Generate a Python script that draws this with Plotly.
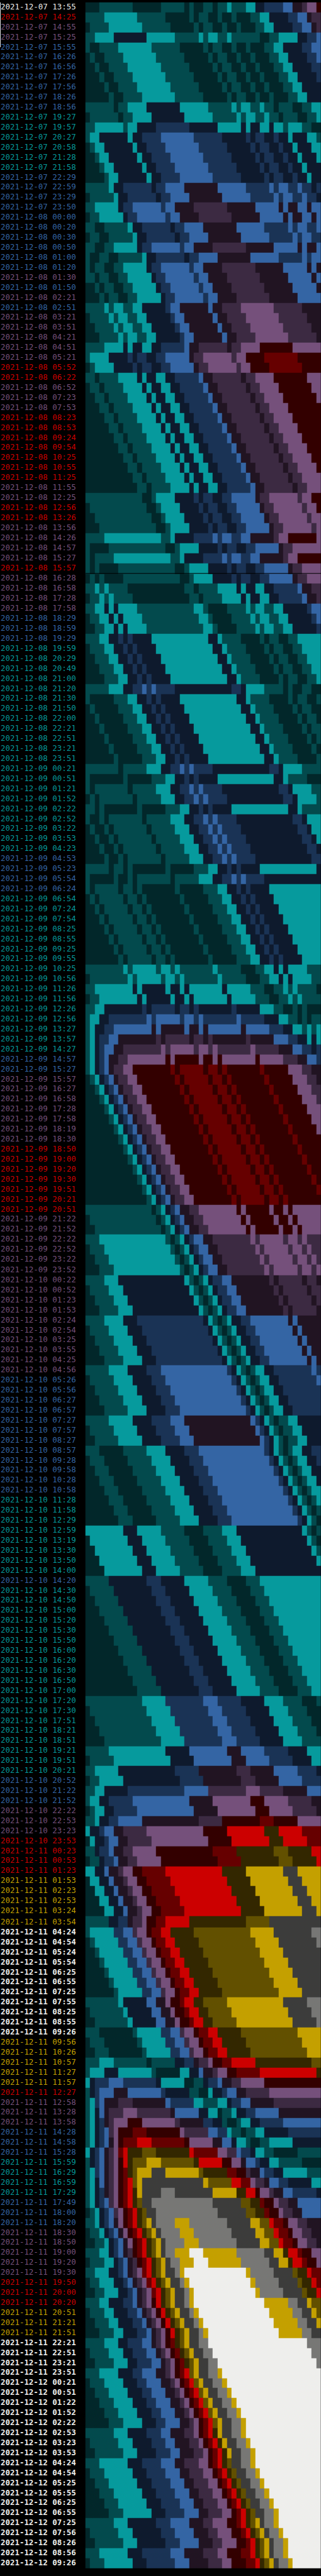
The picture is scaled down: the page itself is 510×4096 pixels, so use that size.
import re
import plotly.graph_objects as go

# Level palette, lowest to highest (letters a..r used in ROWS)
LEVELS = "abcdefghijklmnopqr"
PALETTE = ["#02272a", "#034a4d", "#069a9d", "#0e1a2d", "#1a3355", "#3465a4",
           "#211422", "#3c2a42", "#75507b", "#330000", "#660000", "#cc0000",
           "#332700", "#625000", "#c4a000", "#3c3c3b", "#777775", "#eeeeec"]
LABEL_COLORS = {"w": "#eeeeec", "W": "#eeeeec", "r": "#cc0000", "p": "#75507b",
                "b": "#3465a4", "t": "#06989a", "y": "#c4a000"}

D07 = "13:55 14:25 14:55 15:25 15:55 16:26 16:56 17:26 17:56 18:26 18:56 19:27 19:57 20:27 20:58 21:28 21:58 22:29 22:59 23:29 23:50".split()
D08 = "00:00 00:20 00:30 00:50 01:00 01:20 01:30 01:50 02:21 02:51 03:21 03:51 04:21 04:51 05:21 05:52 06:22 06:52 07:23 07:53 08:23 08:53 09:24 09:54 10:25 10:55 11:25 11:55 12:25 12:56 13:26 13:56 14:26 14:57 15:27 15:57 16:28 16:58 17:28 17:58 18:29 18:59 19:29 19:59 20:29 20:49 21:00 21:20 21:30 21:50 22:00 22:21 22:51 23:21 23:51".split()
D09 = "00:21 00:51 01:21 01:52 02:22 02:52 03:22 03:53 04:23 04:53 05:23 05:54 06:24 06:54 07:24 07:54 08:25 08:55 09:25 09:55 10:25 10:56 11:26 11:56 12:26 12:56 13:27 13:57 14:27 14:57 15:27 15:57 16:27 16:58 17:28 17:58 18:19 18:30 18:50 19:00 19:20 19:30 19:51 20:21 20:51 21:22 21:52 22:22 22:52 23:22 23:52".split()
D10 = "00:22 00:52 01:23 01:53 02:24 02:54 03:25 03:55 04:25 04:56 05:26 05:56 06:27 06:57 07:27 07:57 08:27 08:57 09:28 09:58 10:28 10:58 11:28 11:58 12:29 12:59 13:19 13:30 13:50 14:00 14:20 14:30 14:50 15:00 15:20 15:30 15:50 16:00 16:20 16:30 16:50 17:00 17:20 17:30 17:51 18:21 18:51 19:21 19:51 20:21 20:52 21:22 21:52 22:22 22:53 23:23 23:53".split()
D11 = "00:23 00:53 01:23 01:53 02:23 02:53 03:24 03:54 04:24 04:54 05:24 05:54 06:25 06:55 07:25 07:55 08:25 08:55 09:26 09:56 10:26 10:57 11:27 11:57 12:27 12:58 13:28 13:58 14:28 14:58 15:28 15:59 16:29 16:59 17:29 17:49 18:00 18:20 18:30 18:50 19:00 19:20 19:30 19:50 20:00 20:20 20:51 21:21 21:51 22:21 22:51 23:21 23:51".split()
D12 = "00:21 00:51 01:22 01:52 02:22 02:53 03:23 03:53 04:24 04:54 05:25 05:55 06:25 06:55 07:25 07:56 08:26 08:56 09:26".split()

# Label colour class of each row, run-length coded
LABEL_CLASS = ("w1r1p2b7t6b10p1b1p1b1p5r2p3r7p2r2p4r1p4b3t21b4t16b2p7r7p16b12t8b1t19b3p3r4"
               "y5W11y5r1p3b3t4b3p5r3y3W23")

# Heat levels of each row, run-length coded, left to right
ROWS = """
a3b7a6b5a1b1a2b2a1b2c1b3c2d2e4f2g2h1i2j1
b4c7b6a5b1a1b2a2b1a2b1a3b2c2d4e2f2g1h2
a1b4c7b6a5b1a1b2a2b1a2b1a3b2c2d4e2f2g1h1
b2c4d7c6b5c1b1c2b2c1b6a2b2c4d2e2f1
b1a2b4c7b6a5b1a1b2a2b1a2b1a3b2c2d4e2f2
a1b1a2b4c7b6a5b1a1b2a2b1a2b1a3b2c2d4e2f1
a2b1a2b4c7b6a5b1a1b2a2b1a2b1a3b2c2d4e2
a3b1a2b4c7b6a5b1a1b2a2b1a2b1a3b2c2d4e1
a4b1a2b4c7b6a5b1a1b2a2b1a2b1a3b2c2d4
a5b1a2b4c7b6a5b1a1b2a2b1a2b1a3b2c2d3
b6a1b2c4d7c6b5c1b1c2b2c1b2a1b3a2b2c2
a1b6a1b2c4d7c6b5c1b1c2b2c1b2a1b3a2b2c1
b2c6b1c2d4e7d6c5d1c1d2c2d1c2b1c3b2a2
b1c2d6c1d2e4f7e6d5e1d1e2d2e1d2c1d3c2b1
a1b1c2d6c1d2e4f7e6d5e1d1e2d2e1d2c1d3c2
a2b1c2d6c1d2e4f7e6d5e1d1e2d2e1d2c1d3c1
a3b1c2d6c1d2e4f7e6d5e1d1e2d2e1d2c1d3
a4b1c2d6c1d2e4f7e6d5e1d1e2d2e1d2c1d2
b5c1d2e6d1e2f4g7f6e5f1e1f2e2f1e2d1e1
a1b5c1d2e6d1e2f4g7f6e5f1e1f2e2f1e2d1
b2c5d1e2f6e1f2g4h7g6f5g1f1g2f2g1f2
a1b2c5d1e2f6e1f2g4h7g6f5g1f1g2f2g1f1
b2a2b5c1d2e6d1e2f4g7f6e5f1e1f2e2f1
a1b2a2b5c1d2e6d1e2f4g7f6e5f1e1f2e2
b2a2b2c5d1e2f6e1f2g4h7g6f5g1f1g2f1
b1a2b2a2b5c1d2e6d1e2f4g7f6e5f1e1f2
b1a1b2a2b2c5d1e2f6e1f2g4h7g6f5g1f1g1
b2a1b2a2b2c5d1e2f6e1f2g4h7g6f5g1f1
a2b1a1b2a2b2c5d1e2f6e1f2g4h7g6f5g1
a3b1a1b2a2b2c5d1e2f6e1f2g4h7g6f5
b4c1b1c2b2c2d5e1f2g6f1g2h4i7h6g4
a1b4c1b1c2b2c2d5e1f2g6f1g2h4i7h6g3
a2b4c1b1c2b2c2d5e1f2g6f1g2h4i7h6g2
a3b4c1b1c2b2c2d5e1f2g6f1g2h4i7h6g1
b4c4d1c1d2c2d2e5f1g2h6g1h2i4j7i6
b1c4d4e1d1e2d2e2f5g1h2i6h1i2j4k7j5
a1b1c4d4e1d1e2d2e2f5g1h2i6h1i2j4k7j4
b2a1b4c4d1c1d2c2d2e5f1g2h6g1h2i4j7i3
a1b2a1b4c4d1c1d2c2d2e5f1g2h6g1h2i4j7i2
a2b2a1b4c4d1c1d2c2d2e5f1g2h6g1h2i4j7i1
a3b2a1b4c4d1c1d2c2d2e5f1g2h6g1h2i4j7
a4b2a1b4c4d1c1d2c2d2e5f1g2h6g1h2i4j6
a5b2a1b4c4d1c1d2c2d2e5f1g2h6g1h2i4j5
a6b2a1b4c4d1c1d2c2d2e5f1g2h6g1h2i4j4
a7b2a1b4c4d1c1d2c2d2e5f1g2h6g1h2i4j3
a8b2a1b4c4d1c1d2c2d2e5f1g2h6g1h2i4j2
a9b2a1b4c4d1c1d2c2d2e5f1g2h6g1h2i4j1
a10b2a1b4c4d1c1d2c2d2e5f1g2h6g1h2i4
a11b2a1b4c4d1c1d2c2d2e5f1g2h6g1h2i3
b12a2b1c4d4e1d1e2d2e2f5g1h2i6h1i2j2
a1b12a2b1c4d4e1d1e2d2e2f5g1h2i6h1i2j1
a2b12a2b1c4d4e1d1e2d2e2f5g1h2i6h1i2
a3b12a2b1c4d4e1d1e2d2e2f5g1h2i6h1i1
b4c12b2c1d4e4f1e1f2e2f2g5h1i2j6i1
b1a4b12a2b1c4d4e1d1e2d2e2f5g1h2i6
b1a1b4c12b2c1d4e4f1e1f2e2f2g5h1i2j5
b1a1b1a4b12a2b1c4d4e1d1e2d2e2f5g1h2i4
a1b1a1b1a4b12a2b1c4d4e1d1e2d2e2f5g1h2i3
b2c1b1c1b4a12b2a1b4c4d1c1d2c2d2e5f1g2h2
a1b2c1b1c1b4a12b2a1b4c4d1c1d2c2d2e5f1g2h1
b2c2d1c1d1c4b12c2b1a4b4c1b1c2b2c2d5e1f2
a1b2c2d1c1d1c4b12c2b1a4b4c1b1c2b2c2d5e1f1
a2b2c2d1c1d1c4b12c2b1a4b4c1b1c2b2c2d5e1
b3c2d2e1d1e1d4c12d2c1b4a4b1a1b2a2b2c5
a1b3c2d2e1d1e1d4c12d2c1b4a4b1a1b2a2b2c4
a2b3c2d2e1d1e1d4c12d2c1b4a4b1a1b2a2b2c3
a3b3c2d2e1d1e1d4c12d2c1b4a4b1a1b2a2b2c2
a4b3c2d2e1d1e1d4c12d2c1b4a4b1a1b2a2b2c1
b5c3d2e2f1e1f1e4d12e2d1c4b4a1b1a2b2a2
b1a5b3c2d2e1d1e1d4c12d2c1b4a4b1a1b2a2b1
a1b1a5b3c2d2e1d1e1d4c12d2c1b4a4b1a1b2a2
a2b1a5b3c2d2e1d1e1d4c12d2c1b4a4b1a1b2a1
a3b1a5b3c2d2e1d1e1d4c12d2c1b4a4b1a1b2
a4b1a5b3c2d2e1d1e1d4c12d2c1b4a4b1a1b1
a5b1a5b3c2d2e1d1e1d4c12d2c1b4a4b1a1
a6b1a5b3c2d2e1d1e1d4c12d2c1b4a4b1
b7a1b5c3d2e2f1e1f1e4d12e2d1c4b4
b1a7b1a5b3c2d2e1d1e1d4c12d2c1b4a3
b1a1b7a1b5c3d2e2f1e1f1e4d12e2d1c4b2
a1b1a1b7a1b5c3d2e2f1e1f1e4d12e2d1c4b1
b2a1b1a7b1a5b3c2d2e1d1e1d4c12d2c1b4
b1a2b1a1b7a1b5c3d2e2f1e1f1e4d12e2d1c3
a1b1a2b1a1b7a1b5c3d2e2f1e1f1e4d12e2d1c2
a2b1a2b1a1b7a1b5c3d2e2f1e1f1e4d12e2d1c1
a3b1a2b1a1b7a1b5c3d2e2f1e1f1e4d12e2d1
a4b1a2b1a1b7a1b5c3d2e2f1e1f1e4d12e2
b5a1b2a1b1a7b1a5b3c2d2e1d1e1d4c12d1
b1a5b1a2b1a1b7a1b5c3d2e2f1e1f1e4d12
b1a1b5a1b2a1b1a7b1a5b3c2d2e1d1e1d4c11
a1b1a1b5a1b2a1b1a7b1a5b3c2d2e1d1e1d4c10
a2b1a1b5a1b2a1b1a7b1a5b3c2d2e1d1e1d4c9
a3b1a1b5a1b2a1b1a7b1a5b3c2d2e1d1e1d4c8
a4b1a1b5a1b2a1b1a7b1a5b3c2d2e1d1e1d4c7
a5b1a1b5a1b2a1b1a7b1a5b3c2d2e1d1e1d4c6
a6b1a1b5a1b2a1b1a7b1a5b3c2d2e1d1e1d4c5
a7b1a1b5a1b2a1b1a7b1a5b3c2d2e1d1e1d4c4
b8c1b1c5b1c2b1c1b7c1b5a3b2c2d1c1d1c4b3
a1b8c1b1c5b1c2b1c1b7c1b5a3b2c2d1c1d1c4b2
b2c8d1c1d5c1d2c1d1c7d1c5b3a2b2c1b1c1b4a1
a1b2c8d1c1d5c1d2c1d1c7d1c5b3a2b2c1b1c1b4
b2c2d8e1d1e5d1e2d1e1d7e1d5c3b2a2b1a1b1a3
b1c2d2e8f1e1f5e1f2e1f1e7f1e5d3c2b2a1b1a1b2
b1c1d2e2f8g1f1g5f1g2f1g1f7g1f5e3d2c2b1c1b1c1
b1c1d1e2f2g8h1g1h5g1h2g1h1g7h1g5f3e2d2c1d1c1
b1c1d1e1f2g2h8i1h1i5h1i2h1i1h7i1h5g3f2e2d1e1
b1c1d1e1f1g2h2i8j1i1j5i1j2i1j1i7j1i5h3g2f2e1
b1c1d1e1f1g1h2i2j8k1j1k5j1k2j1k1j7k1j5i3h2g2
a1b1c1d1e1f1g1h2i2j8k1j1k5j1k2j1k1j7k1j5i3h2g1
a2b1c1d1e1f1g1h2i2j8k1j1k5j1k2j1k1j7k1j5i3h2
a3b1c1d1e1f1g1h2i2j8k1j1k5j1k2j1k1j7k1j5i3h1
a4b1c1d1e1f1g1h2i2j8k1j1k5j1k2j1k1j7k1j5i3
a5b1c1d1e1f1g1h2i2j8k1j1k5j1k2j1k1j7k1j5i2
a6b1c1d1e1f1g1h2i2j8k1j1k5j1k2j1k1j7k1j5i1
a7b1c1d1e1f1g1h2i2j8k1j1k5j1k2j1k1j7k1j5
a8b1c1d1e1f1g1h2i2j8k1j1k5j1k2j1k1j7k1j4
a9b1c1d1e1f1g1h2i2j8k1j1k5j1k2j1k1j7k1j3
a10b1c1d1e1f1g1h2i2j8k1j1k5j1k2j1k1j7k1j2
a11b1c1d1e1f1g1h2i2j8k1j1k5j1k2j1k1j7k1j1
a12b1c1d1e1f1g1h2i2j8k1j1k5j1k2j1k1j7k1
a13b1c1d1e1f1g1h2i2j8k1j1k5j1k2j1k1j7
b14a1b1c1d1e1f1g2h2i8j1i1j5i1j2i1j1i6
a1b14a1b1c1d1e1f1g2h2i8j1i1j5i1j2i1j1i5
a2b14a1b1c1d1e1f1g2h2i8j1i1j5i1j2i1j1i4
b3c14b1a1b1c1d1e1f2g2h8i1h1i5h1i2h1i1h3
a1b3c14b1a1b1c1d1e1f2g2h8i1h1i5h1i2h1i1h2
a2b3c14b1a1b1c1d1e1f2g2h8i1h1i5h1i2h1i1h1
a3b3c14b1a1b1c1d1e1f2g2h8i1h1i5h1i2h1i1
b4c3d14c1b1a1b1c1d1e2f2g8h1g1h5g1h2g1
a1b4c3d14c1b1a1b1c1d1e2f2g8h1g1h5g1h2
a2b4c3d14c1b1a1b1c1d1e2f2g8h1g1h5g1h1
a3b4c3d14c1b1a1b1c1d1e2f2g8h1g1h5g1
b4c4d3e14d1c1b1a1b1c1d2e2f8g1f1g5
a1b4c4d3e14d1c1b1a1b1c1d2e2f8g1f1g4
a2b4c4d3e14d1c1b1a1b1c1d2e2f8g1f1g3
a3b4c4d3e14d1c1b1a1b1c1d2e2f8g1f1g2
a4b4c4d3e14d1c1b1a1b1c1d2e2f8g1f1g1
b5c4d4e3f14e1d1c1b1a1b1c2d2e8f1e1
a1b5c4d4e3f14e1d1c1b1a1b1c2d2e8f1
a2b5c4d4e3f14e1d1c1b1a1b1c2d2e8
a3b5c4d4e3f14e1d1c1b1a1b1c2d2e7
a4b5c4d4e3f14e1d1c1b1a1b1c2d2e6
b5c5d4e4f3g14f1e1d1c1b1a1b2c2d5
a1b5c5d4e4f3g14f1e1d1c1b1a1b2c2d4
a2b5c5d4e4f3g14f1e1d1c1b1a1b2c2d3
b3a5b5c4d4e3f14e1d1c1b1a1b1c2d2e2
a1b3a5b5c4d4e3f14e1d1c1b1a1b1c2d2e1
a2b3a5b5c4d4e3f14e1d1c1b1a1b1c2d2
a3b3a5b5c4d4e3f14e1d1c1b1a1b1c2d1
a4b3a5b5c4d4e3f14e1d1c1b1a1b1c2
a5b3a5b5c4d4e3f14e1d1c1b1a1b1c1
a6b3a5b5c4d4e3f14e1d1c1b1a1b1
a7b3a5b5c4d4e3f14e1d1c1b1a1
c8d3c5b5a4b4c3d14c1b1a1b1
a1c8d3c5b5a4b4c3d14c1b1a1
a2c8d3c5b5a4b4c3d14c1b1
a3c8d3c5b5a4b4c3d14c1
a4c8d3c5b5a4b4c3d14
b5d8e3d5c5b4a4b3c13
a1b5d8e3d5c5b4a4b3c12
a2b5d8e3d5c5b4a4b3c11
a3b5d8e3d5c5b4a4b3c10
a4b5d8e3d5c5b4a4b3c9
a5b5d8e3d5c5b4a4b3c8
a6b5d8e3d5c5b4a4b3c7
a7b5d8e3d5c5b4a4b3c6
a8b5d8e3d5c5b4a4b3c5
a9b5d8e3d5c5b4a4b3c4
a10b5d8e3d5c5b4a4b3c3
a11b5d8e3d5c5b4a4b3c2
b12c5e8f3e5d5c4b4a3b1
a1b12c5e8f3e5d5c4b4a3
a2b12c5e8f3e5d5c4b4a2
a3b12c5e8f3e5d5c4b4a1
a4b12c5e8f3e5d5c4b4
b5c12d5f8g3f5e5d4c3
a1b5c12d5f8g3f5e5d4c2
b2c5d12e5g8h3g5f5e4d1
a1b2c5d12e5g8h3g5f5e4
b2c2d5e12f5h8i3h5g5f3
b1c2d2e5f12g5i8j3i5h5g2
a1b1c2d2e5f12g5i8j3i5h5g1
b2c1d2e2f5g12h5j8k3j5i5
c1d2e1f2g2h5i12j5l8m3l5k4
a1c1d2e1f2g2h5i12j5l8m3l5k3
b2d1e2f1g2h2i5j12k5m8n3m5l2
a1b2d1e2f1g2h2i5j12k5m8n3m5l1
c2d2f1g2h1i2j2k5l12m5o8p3o5
a1c2d2f1g2h1i2j2k5l12m5o8p3o4
a2c2d2f1g2h1i2j2k5l12m5o8p3o3
a3c2d2f1g2h1i2j2k5l12m5o8p3o2
a4c2d2f1g2h1i2j2k5l12m5o8p3o1
b5d2e2g1h2i1j2k2l5m12n5p11
b1c5e2f2h1i2j1k2l2m5n12o5p8q2
a1b1c5e2f2h1i2j1k2l2m5n12o5p8q1
a2b1c5e2f2h1i2j1k2l2m5n12o5p8
a3b1c5e2f2h1i2j1k2l2m5n12o5p7
a4b1c5e2f2h1i2j1k2l2m5n12o5p6
a5b1c5e2f2h1i2j1k2l2m5n12o5p5
a6b1c5e2f2h1i2j1k2l2m5n12o5p4
b7c1d5f2g2i1j2k1l2m2n5o12p5q3
a1b7c1d5f2g2i1j2k1l2m2n5o12p5q2
a2b7c1d5f2g2i1j2k1l2m2n5o12p5q1
b3a7b1c5e2f2h1i2j1k2l2m5n12o5
a1b3a7b1c5e2f2h1i2j1k2l2m5n12o4
a2b3a7b1c5e2f2h1i2j1k2l2m5n12o3
b3c3b7a1b5d2e2g1h2i1j2k2l5m12n2
b1c3d3c7b1a5c2d2f1g2h1i2j2k5l12m1
c1d1e3f3e7d1c5a2b2d1e2f1g2h2i5j12
b1d1e1f3g3f7e1d5b2a2c1d2e1f2g2h5i11
b1c1e1f1g3h3g7f1e5c2b3c2d1e2f2g5h10
b1c1d1f1g1h3i3h7g1f5d2c2a1b2c1d2e2f5g9
b1c1d1e1g1h1i3j3i7h1g5e2d2b1a2b1c2d2e5f8
b1c1d1e1f1h1i1j3k3j7i1h5f2e2c1b2a1b2c2d5e7
b1c1d1e1f1g1i1j1k3l3k7j1i5g2f2d1c2b1a2b2c5d6
c1d1e1f1g1h1i1k1l1m3n3m7l1k5i2h2f1e2d1c2b2a5b5
b1d1e1f1g1h1i1j1l1m1n3o3n7m1l5j2i2g1f2e1d2c2b5a4
b1c1e1f1g1h1i1j1k1m1n1o3p3o7n1m5k2j2h1g2f1e2d2c5b3
b1c1d1f1g1h1i1j1k1l1n1o1p13o1n5l2k2i1h2g1f2e2d5c2
b1c1d1e1g1h1i1j1k1l1m1o1p4q3p8o5m2l2j1i2h1g2f2e5d1
b1c1d1e1f1h1i1j1k1l1m1n1p2q13p6n2m2k1j2i1h2g2f5
a1b1c1d1e1f1h1i1j1k1l1m1n1p2q13p6n2m2k1j2i1h2g2f4
b2c1d1e1f1g1i1j1k1l1m1n1o1p1q4o3q8p5o2n2l1k2j1i2h2g3
a1b2c1d1e1f1g1i1j1k1l1m1n1o1p1q4o3q8p5o2n2l1k2j1i2h2g2
a2b2c1d1e1f1g1i1j1k1l1m1n1o1p1q4o3q8p5o2n2l1k2j1i2h2g1
b3c2d1e1f1g1h1j1k1l1m1n1o1p1q2o3r3o7q6p2o2m1l2k1j2i2
a1b3c2d1e1f1g1h1j1k1l1m1n1o1p1q2o3r3o7q6p2o2m1l2k1j2i1
b2c3d2e1f1g1h1i1k1l1m1n1o1p2q1o1r13o1q5p4n1m2l1k2
a1b2c3d2e1f1g1h1i1k1l1m1n1o1p2q1o1r13o1q5p4n1m2l1k1
a2b2c3d2e1f1g1h1i1k1l1m1n1o1p2q1o1r13o1q5p4n1m2l1
b3c2d3e2f1g1h1i1j1l1m1n1o1p2q1o1r15o5q2p2o1n2
a1b3c2d3e2f1g1h1i1j1l1m1n1o1p2q1o1r15o5q2p2o1n1
a2b3c2d3e2f1g1h1i1j1l1m1n1o1p2q1o1r15o5q2p2o1
a3b3c2d3e2f1g1h1i1j1l1m1n1o1p2q1o1r15o5q2p2
b4c3d2e3f2g1h1i1j1k1m1n1o1p2q2r21q3
a1b4c3d2e3f2g1h1i1j1k1m1n1o1p2q2r21q2
a2b4c3d2e3f2g1h1i1j1k1m1n1o1p2q2r21q1
b3c4d3e2f3g2h1i1j1k1l1n1o1p2q2o1r21
a1b3c4d3e2f3g2h1i1j1k1l1n1o1p2q2o1r20
a2b3c4d3e2f3g2h1i1j1k1l1n1o1p2q2o1r19
a3b3c4d3e2f3g2h1i1j1k1l1n1o1p2q2o1r18
a4b3c4d3e2f3g2h1i1j1k1l1n1o1p2q2o1r17
a5b3c4d3e2f3g2h1i1j1k1l1n1o1p2q2o1r16
b6c3d4e3f2g3h2i1j1k1l1m1o1p2q2o1r16
a1b6c3d4e3f2g3h2i1j1k1l1m1o1p2q2o1r15
a2b6c3d4e3f2g3h2i1j1k1l1m1o1p2q2o1r14
b3c6d3e4f3g2h3i2j1k1l1m1n1p2q2o1r14
a1b3c6d3e4f3g2h3i2j1k1l1m1n1p2q2o1r13
a2b3c6d3e4f3g2h3i2j1k1l1m1n1p2q2o1r12
a3b3c6d3e4f3g2h3i2j1k1l1m1n1p2q2o1r11
a4b3c6d3e4f3g2h3i2j1k1l1m1n1p2q2o1r10
a5b3c6d3e4f3g2h3i2j1k1l1m1n1p2q2o1r9
b6c3d6e3f4g3h2i3j2k1l1m1n1o1p1q2o1r9
a1b6c3d6e3f4g3h2i3j2k1l1m1n1o1p1q2o1r8
a2b6c3d6e3f4g3h2i3j2k1l1m1n1o1p1q2o1r7
b3c6d3e6f3g4h3i2j3k2l1m1n1o1p1q2o1r7
a1b3c6d3e6f3g4h3i2j3k2l1m1n1o1p1q2o1r6
""".split()

N_COLS = 50


def unrle(code):
    return [ch for ch, n in re.findall(r"([A-Za-z])(\d+)", code) for _ in range(int(n))]


def row_levels(code):
    cells = [LEVELS.index(c) for c in unrle(code)]
    cells += [cells[-1]] * (N_COLS - len(cells))
    return cells[:N_COLS]


z = [row_levels(r) for r in ROWS]

labels = ([f"2021-12-07 {t}" for t in D07] + [f"2021-12-08 {t}" for t in D08]
          + [f"2021-12-09 {t}" for t in D09] + [f"2021-12-10 {t}" for t in D10]
          + [f"2021-12-11 {t}" for t in D11] + [f"2021-12-12 {t}" for t in D12])
classes = unrle(LABEL_CLASS)
text = [f"<b>{l}</b>" if c == "W" else l for l, c in zip(labels, classes)]
text_colors = [LABEL_COLORS[c] for c in classes]

# Layout is expressed in the reference's pixels: 8 x 17 character cells, 4 px top
# offset, three places where the screenshot has a little extra height.
CELL_W, CELL_H, TOP, REF_W, REF_H = 8, 17, 4, 545, 4373
LEFT = 145
EXTRA = {57: 1, 127: 1, 192: 2}
edges = [TOP]
for i in range(1, len(z) + 1):
    edges.append(edges[-1] + CELL_H + EXTRA.get(i, 0))
centers = [edges[i + 1] - CELL_H / 2 for i in range(len(z))]
x_edges = list(range(N_COLS + 1))

n = len(PALETTE)
colorscale = []
for i, c in enumerate(PALETTE):
    colorscale += [[i / n, c], [(i + 1) / n, c]]

fig = go.Figure()
fig.add_trace(go.Heatmap(z=z, x=x_edges, y=edges, zmin=0, zmax=n - 1 + 1e-9,
                         colorscale=[[min(a * n / (n), 1), b] for a, b in colorscale],
                         showscale=False, hoverinfo="skip"))
fig.data[0].zmin = -0.5
fig.data[0].zmax = n - 0.5
fig.add_trace(go.Scatter(x=[-18] * len(text), y=centers, text=text, mode="text",
                         textposition="middle right", cliponaxis=False,
                         textfont=dict(family="DejaVu Sans Mono", size=12.44, color=text_colors),
                         hoverinfo="skip"))
fig.add_shape(type="rect", xref="x", yref="y", x0=-LEFT / CELL_W, x1=-(LEFT - 1) / CELL_W,
              y0=TOP, y1=80, fillcolor="#eeeeec", line_width=0)
fig.add_shape(type="rect", xref="x", yref="y", x0=0, x1=N_COLS,
              y0=edges[57] - 1, y1=edges[57], fillcolor="#000000", line_width=0)
fig.update_layout(width=510, height=4096, margin=dict(l=0, r=0, t=0, b=0, pad=0),
                  paper_bgcolor="#000000", plot_bgcolor="#000000", showlegend=False,
                  hovermode=False,
                  xaxis=dict(visible=False, range=[-LEFT / CELL_W, N_COLS], fixedrange=True),
                  yaxis=dict(visible=False, range=[REF_H, 0], fixedrange=True))
fig.write_html("out.html", config={"displayModeBar": False},
               post_script="document.body.style.margin='0';document.body.style.background='#000';")
